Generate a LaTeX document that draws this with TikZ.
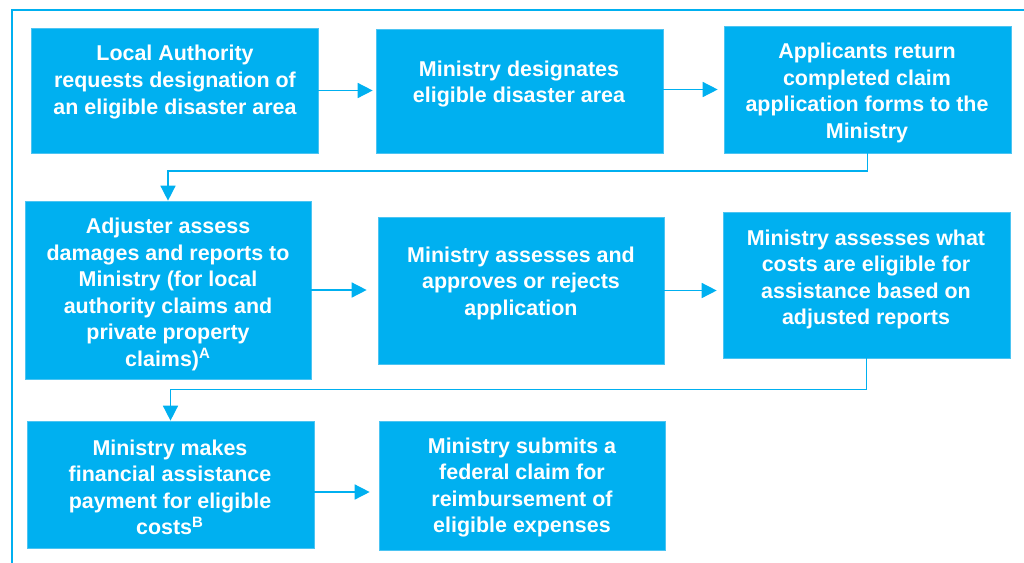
\documentclass[tikz,border=0pt]{standalone}
\usepackage{fontspec}
\setmainfont{Liberation Sans}
\usetikzlibrary{arrows.meta}
\definecolor{cyanfill}{HTML}{00B0F0}
\definecolor{cyanline}{HTML}{4CC4F2}
\tikzset{
	stepbox/.style={fill=cyanfill, draw=cyanline, line width=0.4pt, inner sep=0pt},
	steptext/.style={text=white, font=\bfseries\fontsize{12.2}{15.1}\selectfont, align=center, inner sep=0pt},
	flow/.style={draw=cyanfill, line width=0.85pt, -{Triangle[length=0.3cm,width=0.3cm]}}
}

\begin{document}
\begin{tikzpicture}[x=0.02cm, y=-0.02cm]
\useasboundingbox (0,0) rectangle (1024,562);
% outer frame, cut off at the right and bottom
\draw[cyanfill, line width=1.4pt] (12,10) rectangle (1060,600);

% the eight steps, three rows
\foreach \n/\x/\y/\w/\h in {b1/174.5/90.5/5.74/2.5, b2/519.5/91/5.74/2.48, b3/867.5/89.5/5.74/2.54,
	b4/168/290/5.72/3.56, b5/521/290.5/5.72/2.94, b6/866.5/285/5.74/2.92,
	b7/170.5/484.5/5.74/2.54, b8/522/485.5/5.72/2.58}{
	\node[stepbox, minimum width=\w cm, minimum height=\h cm] (\n) at (\x,\y) {};
}

\node[steptext] (t1) at (175,82) {Local Authority\\requests designation of\\an eligible disaster area};
\node[steptext] (t2) at (519,84) {Ministry designates\\eligible disaster area};
\node[steptext] (t3) at (867,93) {Applicants return\\completed claim\\application forms to the\\Ministry};
\node[steptext] (t4) at (168,294.5) {Adjuster assess\\damages and reports to\\Ministry (for local\\authority claims and\\private property\\claims)\textsuperscript{A}};
\node[steptext] (t5) at (521,283) {Ministry assesses and\\approves or rejects\\application};
\node[steptext] (t6) at (866,279.5) {Ministry assesses what\\costs are eligible for\\assistance based on\\adjusted reports};
\node[steptext] (t7) at (170,487.5) {Ministry makes\\financial assistance\\payment for eligible\\costs\textsuperscript{B}};
\node[steptext] (t8) at (522,487.5) {Ministry submits a\\federal claim for\\reimbursement of\\eligible expenses};

% arrows between the steps
\draw[flow, shorten >=0.06cm] (b1.east) -- (b1.east -| b2.west);
\draw[flow, shorten >=0.12cm] (b3.west -| b2.east) -- (b3.west);
\draw[flow] (b3.south) -- ++(0,17.5) -| (b4.north);
\draw[flow, shorten >=0.22cm] (b4.east) -- (b4.east -| b5.west);
\draw[flow, shorten >=0.12cm] (b5.east) -- (b5.east -| b6.west);
\draw[flow] (b6.south) -- ++(0,31) -| (b7.north);
\draw[flow, shorten >=0.18cm] ([yshift=-0.15cm]b7.east) -- ([yshift=-0.15cm]b7.east -| b8.west);
\end{tikzpicture}
\end{document}
